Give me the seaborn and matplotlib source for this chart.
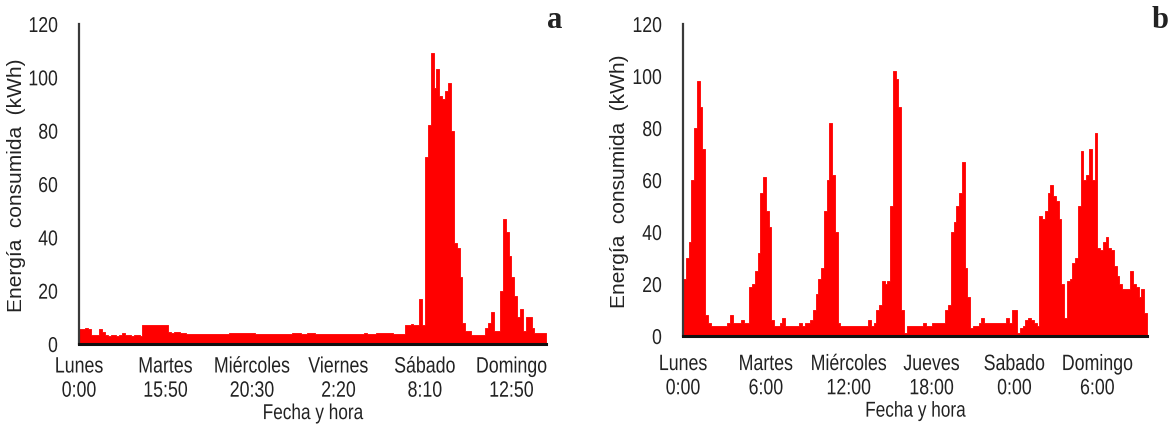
import numpy as np
import pandas as pd
import matplotlib
matplotlib.use("Agg")
import matplotlib.pyplot as plt
import seaborn as sns
from matplotlib import patheffects
from matplotlib.transforms import Affine2D

# ---------------- data ----------------
# Panel a: consumption per sample (category axis, tick label every 30 samples)
energy_a = [
    5.5, 5.5, 6, 5.5, 3.5, 3.5, 3.5, 5.5, 4.5,
    3.5, 3, 3.5, 3.5, 3, 3.5, 4, 3.5, 3.5, 3, 3.5, 3.5, 3,
    7, 7, 7, 7, 7, 7, 7, 7, 7,
    4.5, 4, 4.5, 4.5, 4, 4,
    3.8, 3.8, 3.9, 3.8, 3.8, 3.8, 3.8, 3.9, 3.8, 3.8, 3.8, 3.8, 3.8, 3.9, 3.8,
    4.2, 4.3, 4.2, 4.3, 4.2, 4.2, 4.3, 4.2, 4.0,
    3.8, 3.8, 3.8, 3.8, 3.8, 3.8, 3.8, 3.8, 3.8, 3.8, 3.8, 3.8, 3.8,
    4.2, 4.3, 4.2, 3.8, 3.8, 4.3, 4.3, 4.2,
    3.8, 3.8, 3.8, 3.8, 3.8, 3.8, 3.8, 3.8, 3.8, 3.8, 3.8, 3.8, 3.8, 3.8, 3.8, 3.8, 3.8,
    4.3, 3.8, 3.8, 3.8,
    4.2, 4.2, 4.3, 4.2, 4.2, 4.2, 3.9, 3.8, 3.8, 3.8,
    7, 7, 7.5, 7, 7, 17, 7,
    70, 82, 109, 96, 103, 93, 92, 95, 98, 80, 38, 36, 25, 8, 5, 5,
    3.5, 3.5, 3.5, 3.5, 3.5, 6, 8, 12, 5, 5, 20, 47, 42, 33, 25, 18, 10, 13,
    5, 10, 10, 6, 4, 4, 4, 4,
]
labels_a = ["Lunes\n0:00", "Martes\n15:50", "Miércoles\n20:30",
            "Viernes\n2:20", "Sábado\n8:10", "Domingo\n12:50"]

# Panel b: hourly consumption over one week
energy_b = [
    22, 30, 36, 60, 80, 98, 88, 72, 8, 5,
    4, 4, 4, 4, 4, 4, 5, 8, 5, 5, 5, 6, 5, 5,
    19, 20, 25, 32, 55, 61, 48, 42, 6, 4,
    4, 5, 7, 4, 4, 4, 4, 4, 5, 4, 5, 5, 6,
    10, 16, 22, 26, 48, 60, 82, 62, 40, 5,
    4, 4, 4, 4, 4, 4, 4, 4, 4, 4, 6, 4, 5,
    10, 12, 21, 20, 21, 50, 102, 99, 88, 10, 1,
    4, 4, 4, 4, 4, 4, 5, 4, 4, 5, 5, 5, 5, 5,
    10, 12, 40, 44, 50, 55, 67, 26, 15, 3, 4,
    4, 5, 7, 5, 5, 5, 5, 5, 5, 5, 5, 7, 5, 10, 10, 1, 3, 4, 6, 7, 6, 5, 4,
    46, 45, 48, 55, 58, 54, 52, 45, 20, 7, 21, 22, 28, 30, 50, 71, 60, 62, 72, 60, 78,
    34, 33, 36, 38, 34, 33, 27, 23, 20, 18, 18, 18, 25, 20, 19, 15, 18, 9,
]
labels_b = ["Lunes\n0:00", "Martes\n6:00", "Miércoles\n12:00",
            "Jueves\n18:00", "Sabado\n0:00", "Domingo\n6:00"]

label_step = 30
yticks = [0, 20, 40, 60, 80, 100, 120]


# ---------------- style ----------------
class Squeeze(patheffects.AbstractPathEffect):
    """Draw text horizontally condensed (like a narrow typeface)."""

    def __init__(self, sx=0.8, anchor="center"):
        super().__init__()
        self.sx = sx
        self.anchor = anchor

    def draw_path(self, renderer, gc, tpath, affine, rgbFace=None):
        ext = affine.transform_path(tpath).get_extents()
        x0 = ext.x1 if self.anchor == "right" else 0.5 * (ext.x0 + ext.x1)
        t = Affine2D().translate(-x0, 0).scale(self.sx, 1).translate(x0, 0)
        renderer.draw_path(gc, tpath, affine + t, rgbFace)


sns.set_theme(style="white")
plt.rcParams["font.family"] = ["Liberation Sans", "DejaVu Sans"]

RED = "#FF0000"
TXT = "#222222"
fig = plt.figure(figsize=(11.75, 4.31), dpi=100)
ax_a = fig.add_axes([79 / 1175, 1 - 345 / 431, 467 / 1175, 320 / 431])
ax_b = fig.add_axes([683 / 1175, 1 - 337 / 431, 464 / 1175, 312 / 431])


def draw(ax, values, labels, ylab_x, xpad):
    n = len(values)
    df = pd.DataFrame({"idx": np.arange(n) + 0.5, "kwh": np.asarray(values, float)})
    sns.histplot(data=df, x="idx", weights="kwh", binwidth=1, binrange=(0, n),
                 element="step", fill=True, color=RED, alpha=1, linewidth=0.6,
                 edgecolor=RED, ax=ax)
    ax.set_xlim(0, n)
    ax.set_ylim(0, 120)
    ax.set_yticks(yticks)
    ax.set_yticklabels([str(t) for t in yticks], fontsize=15.5, color=TXT)
    ax.set_xticks([i * label_step for i in range(len(labels))])
    ax.set_xticklabels(labels, fontsize=16, color=TXT, linespacing=1.2)
    ax.tick_params(axis="both", length=0)
    ax.tick_params(axis="y", pad=15)
    ax.tick_params(axis="x", pad=xpad)
    for lab in ax.get_yticklabels():
        lab.set_path_effects([Squeeze(0.82, "right")])
    for lab in ax.get_xticklabels():
        lab.set_path_effects([Squeeze(0.8, "center")])
    for s in ["top", "right"]:
        ax.spines[s].set_visible(False)
    ax.spines["left"].set_color("#3a3a3a")
    ax.spines["left"].set_linewidth(1.6)
    ax.spines["bottom"].set_color("#111111")
    ax.spines["bottom"].set_linewidth(2.2)
    ax.set_xlabel("Fecha y hora", fontsize=15.5, color=TXT, labelpad=1)
    ax.xaxis.label.set_path_effects([Squeeze(0.8, "center")])
    ax.set_ylabel("Energía  consumida  (kWh)", fontsize=15, color=TXT)
    ax.yaxis.set_label_coords(ylab_x, 0.5)
    ax.grid(False)


draw(ax_a, energy_a, labels_a, -0.1145, 9)
draw(ax_b, energy_b, labels_b, -0.117, 13)

fig.text(555 / 1175, 1 - 21 / 431, "a", ha="center", va="center", fontsize=22,
         fontweight="bold", family=["Liberation Serif", "DejaVu Serif"], color=TXT)
fig.text(1160 / 1175, 1 - 21 / 431, "b", ha="center", va="center", fontsize=22,
         fontweight="bold", family=["Liberation Serif", "DejaVu Serif"], color=TXT)

fig.savefig("out.png", dpi=100)
